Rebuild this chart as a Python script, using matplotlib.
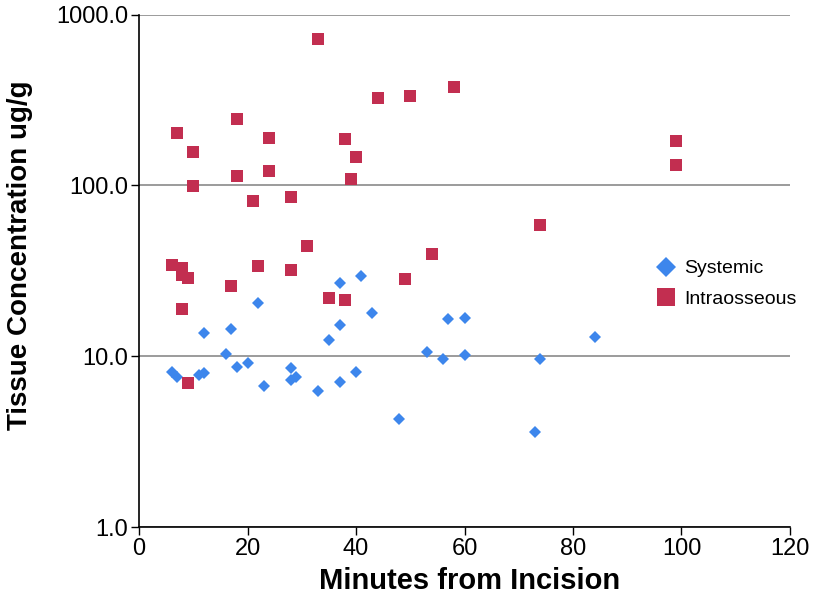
import matplotlib.pyplot as plt
from matplotlib.lines import Line2D

# Systemic (diamantes azules)
sys_min = [6, 7, 11, 12, 12, 16, 17, 18, 20, 22, 23, 28, 28, 29, 33, 35, 37, 37, 37,
           40, 41, 43, 48, 53, 56, 57, 60, 60, 73, 74, 84]
sys_conc = [8.1, 7.6, 7.8, 8.0, 13.6, 10.3, 14.4, 8.7, 9.1, 20.5, 6.7, 8.5, 7.3, 7.6, 6.3,
            12.4, 15.3, 26.7, 7.1, 8.1, 29.6, 17.8, 4.3, 10.6, 9.6, 16.6, 16.8, 10.2, 3.6,
            9.7, 12.9]

# Intraosseous (cuadrados rojos)
io_min = [7, 18, 10, 24, 38, 40, 44, 50, 58, 33, 18, 24, 10, 39, 21, 28, 31, 54,
          99, 99, 74, 6, 8, 8, 9, 8, 9, 17, 22, 28, 35, 38, 49]
io_conc = [202, 245, 157, 190, 186, 146, 326, 335, 376, 721, 113, 122, 99, 109, 81, 86,
           44.4, 39.7, 183, 131, 58.9, 34, 33, 30, 28.7, 18.8, 7.0, 25.7, 33.7, 32.1,
           21.8, 21.3, 28.5]

blue = '#3D86EC'
red = '#C22E50'

fig = plt.figure(figsize=(8.15, 6.01), dpi=100)
ax = fig.add_axes([0.1706, 0.1231, 0.7987, 0.8524])

ax.plot(sys_min, sys_conc, 'D', color=blue, markersize=6.3, markeredgewidth=0, zorder=3)
ax.plot(io_min, io_conc, 's', color=red, markersize=9.2, markeredgewidth=0, zorder=3)

ax.set_yscale('log')
ax.set_ylim(1, 1000)
ax.set_xlim(0, 120)
ax.set_xticks(range(0, 121, 20))
ax.set_yticks([1, 10, 100, 1000])
ax.set_yticklabels(['1.0', '10.0', '100.0', '1000.0'], fontsize=17, family='Liberation Sans')
ax.set_xticklabels([str(v) for v in range(0, 121, 20)], fontsize=17, family='Liberation Sans')
ax.minorticks_off()
ax.yaxis.grid(True, color='#8a8a8a', linewidth=1.2)
ax.set_axisbelow(True)
for s in ['top', 'right']:
    ax.spines[s].set_visible(False)
ax.spines['left'].set_linewidth(1.2)
ax.spines['bottom'].set_linewidth(1.2)
ax.tick_params(axis='both', direction='out', length=6, width=1.0, pad=2)

ax.set_xlabel('Minutes from Incision', fontsize=21, fontweight='bold', family='Liberation Sans')
ax.xaxis.set_label_coords(0.507, -0.078)
ax.set_ylabel('Tissue Concentration ug/g', fontsize=20, fontweight='bold', family='Liberation Sans')
ax.yaxis.set_label_coords(-0.163, 0.531)

handles = [Line2D([], [], marker='D', color=blue, linestyle='', markersize=10, markeredgewidth=0),
           Line2D([], [], marker='s', color=red, linestyle='', markersize=13.5, markeredgewidth=0)]
ax.legend(handles, ['Systemic', 'Intraosseous'], loc='center left',
          bbox_to_anchor=(0.76, 0.475), frameon=False, handletextpad=0.2,
          handlelength=1.5, prop={'family': 'Liberation Sans', 'size': 14}, labelspacing=0.65)

fig.savefig('out.png', dpi=100)
